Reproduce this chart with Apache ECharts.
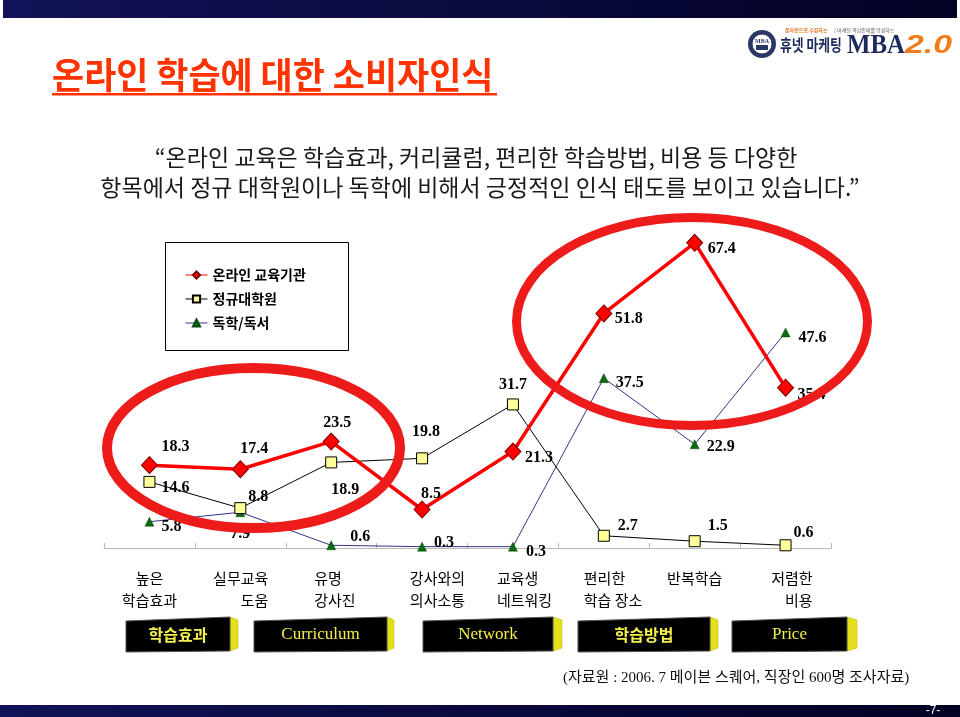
<!DOCTYPE html>
<html>
<head>
<meta charset="utf-8">
<script src="https://cdn.jsdelivr.net/npm/echarts@6/dist/echarts.min.js"></script>
<style>
  html, body { margin: 0; padding: 0; background: #ffffff; }
  #chart { width: 960px; height: 717px; }
</style>
</head>
<body>
<div id="chart"></div>
<script>
// ---- data ----
const categories = ['높은\n학습효과', '실무교육\n도움', '유명\n강사진', '강사와의\n의사소통', '교육생\n네트워킹', '편리한\n학습 장소', '반복학습', '저렴한\n비용'];
const seriesNames = ['온라인 교육기관', '정규대학원', '독학/독서'];
const onlineValues = [18.3, 17.4, 23.5, 8.5, 21.3, 51.8, 67.4, 35.4];
const gradValues = [14.6, 8.8, 18.9, 19.8, 31.7, 2.7, 1.5, 0.6];
const selfValues = [5.8, 7.9, 0.6, 0.3, 0.3, 37.5, 22.9, 47.6];
const groupLabels = ['학습효과', 'Curriculum', 'Network', '학습방법', 'Price'];
const titleText = '온라인 학습에 대한 소비자인식';
const subLine1 = '“온라인 교육은 학습효과, 커리큘럼, 편리한 학습방법, 비용 등 다양한';
const subLine2 = '항목에서 정규 대학원이나 독학에 비해서 긍정적인 인식 태도를 보이고 있습니다.”';
const sourceText = '(자료원 : 2006. 7 메이븐 스퀘어, 직장인 600명 조사자료)';

// ---- styles / layout (not data) ----
const onlineOffsets = [[26,-18],[14,-20],[6,-19],[9,-16],[26,6],[25,5],[27,6],[26,7]];
const gradOffsets = [[26,6],[18,-11],[14,27],[4,-26],[0,-20],[24,-10],[23,-15],[18,-12]];
const selfOffsets = [[22,5],[0,22],[29,-8],[22,-4],[23,5],[26,5],[26,3],[27,5]];
const catLabelStyle = [
  {align:'center'}, {align:'right', width:56}, {align:'left', width:34}, {align:'right', width:86},
  {align:'left', width:32}, {align:'left', width:40}, {align:'center'}, {align:'right', width:54}
];
const buttonBoxes = [[126,230,238],[254,387,394],[423,553,562],[578,710,718],[732,847,857]];

const KR = '"Noto Sans CJK KR", sans-serif';
const SERIF = '"Liberation Serif", "DejaVu Serif", serif';

const chart = echarts.init(document.getElementById('chart'), null, {renderer: 'canvas'});

function withLabels(values, offsets) {
  return values.map((v, i) => ({ value: v, label: { offset: offsets[i] } }));
}

const rich = {};
catLabelStyle.forEach((s, i) => {
  rich['s' + i] = Object.assign({ fontSize: 15, lineHeight: 22, color: '#000', fontFamily: KR }, s);
});

const labelBase = {
  show: true, position: 'inside', align: 'center', verticalAlign: 'middle',
  fontFamily: SERIF, fontSize: 16, fontWeight: 'bold', color: '#000'
};

const graphics = [];
// top bar and bottom bar
const barGrad = new echarts.graphic.LinearGradient(0, 0, 1, 0, [
  {offset: 0, color: '#121258'}, {offset: 1, color: '#020224'}
]);
graphics.push({ type: 'rect', shape: {x: 3, y: 0, width: 954, height: 18}, style: {fill: barGrad}, z: 50 });
graphics.push({ type: 'rect', shape: {x: 0, y: 705, width: 960, height: 12}, style: {fill: barGrad}, z: 50 });
graphics.push({ type: 'text', x: 933, y: 711, z: 51,
  style: {text: '-7-', font: '12px "Liberation Sans", sans-serif', fill: '#ffffff', align: 'center', verticalAlign: 'middle'} });

// title
graphics.push({ type: 'text', x: 52, y: 75, scaleX: 0.97, z: 50,
  style: {text: titleText, font: 'bold 36px ' + KR, fill: '#ff3300', align: 'left', verticalAlign: 'middle'} });
graphics.push({ type: 'rect', shape: {x: 52, y: 93, width: 445, height: 2.5}, style: {fill: '#ff3300'}, z: 50 });

// subtitle
graphics.push({ type: 'text', x: 476, y: 157, z: 50,
  style: {text: subLine1, font: '23px ' + KR, fill: '#1a1a1a', align: 'center', verticalAlign: 'middle'} });
graphics.push({ type: 'text', x: 480, y: 187, z: 50,
  style: {text: subLine2, font: '23px ' + KR, fill: '#1a1a1a', align: 'center', verticalAlign: 'middle'} });

// logo
graphics.push({ type: 'circle', shape: {cx: 762, cy: 44, r: 14}, style: {fill: '#2a3866'}, z: 50 });
graphics.push({ type: 'circle', shape: {cx: 762, cy: 44, r: 10}, style: {fill: '#ffffff', stroke: '#2a3866', lineWidth: 1}, z: 51 });
graphics.push({ type: 'text', x: 762, y: 41, z: 52,
  style: {text: 'MBA', font: 'bold 6px ' + SERIF, fill: '#2a3866', align: 'center', verticalAlign: 'middle'} });
graphics.push({ type: 'rect', shape: {x: 756, y: 45, width: 12, height: 5}, style: {fill: '#2a3866'}, z: 52 });
graphics.push({ type: 'text', x: 785, y: 30, z: 50,
  style: {text: '온라인으로 수강하는', font: 'bold 5px ' + KR, fill: '#e8731a', align: 'left', verticalAlign: 'middle'} });
graphics.push({ type: 'text', x: 834, y: 30, z: 50,
  style: {text: '/ 마케팅 핵심인재를 양성하는', font: '5px ' + KR, fill: '#555555', align: 'left', verticalAlign: 'middle'} });
graphics.push({ type: 'text', x: 780, y: 45, scaleX: 0.8, z: 50,
  style: {text: '휴넷 마케팅', font: 'bold 16px ' + KR, fill: '#1f2a5c', align: 'left', verticalAlign: 'middle'} });
graphics.push({ type: 'text', x: 847, y: 46, scaleX: 0.92, z: 50,
  style: {text: 'MBA', font: 'bold 27px ' + SERIF, fill: '#1f2a5c', align: 'left', verticalAlign: 'middle'} });
graphics.push({ type: 'text', x: 905, y: 46, scaleX: 1.3, z: 50,
  style: {text: '2.0', font: 'italic bold 26px "Liberation Sans", sans-serif', fill: '#f07d1a', align: 'left', verticalAlign: 'middle'} });

// legend box
graphics.push({ type: 'rect', shape: {x: 165.5, y: 242.5, width: 183, height: 108}, style: {fill: 'none', stroke: '#000', lineWidth: 1}, z: 1 });

// ellipses (annotation)
graphics.push({ type: 'ellipse', shape: {cx: 253.5, cy: 448, rx: 146.5, ry: 80}, style: {fill: 'none', stroke: '#ee1b1b', lineWidth: 10}, z: 100 });
graphics.push({ type: 'ellipse', shape: {cx: 692, cy: 321.5, rx: 175.5, ry: 104}, style: {fill: 'none', stroke: '#ee1b1b', lineWidth: 9}, z: 100 });

// buttons
buttonBoxes.forEach((b, i) => {
  const [x0, x1, x2] = b;
  graphics.push({ type: 'polygon', z: 60,
    shape: {points: [[x1, 617], [x2, 620], [x2, 648], [x1, 651]]},
    style: {fill: '#e6e01a', stroke: '#b8b000', lineWidth: 0.5} });
  graphics.push({ type: 'polygon', z: 61,
    shape: {points: [[x0, 621], [x1, 617], [x1, 651], [x0, 652]]},
    style: {fill: '#000000', stroke: '#555555', lineWidth: 1} });
  const isKr = /[가-힣]/.test(groupLabels[i]);
  graphics.push({ type: 'text', x: (x0 + x1) / 2, y: 635, z: 62,
    style: {text: groupLabels[i], font: isKr ? ('bold 16px ' + KR) : ('17px ' + SERIF), fill: '#f4f04a', align: 'center', verticalAlign: 'middle'} });
});

// source
graphics.push({ type: 'text', x: 563, y: 678, z: 50,
  style: {text: sourceText, font: '15px ' + SERIF + ', ' + KR, fill: '#111111', align: 'left', verticalAlign: 'middle'} });

const option = {
  backgroundColor: '#ffffff',
  animation: false,
  grid: { left: 104, right: 129, top: 231, bottom: 169, containLabel: false },
  legend: {
    data: seriesNames, orient: 'vertical', left: 180, top: 263, itemGap: 10,
    itemWidth: 22, itemHeight: 9,
    textStyle: { fontFamily: KR, fontSize: 14, fontWeight: 'bold', color: '#000' },
    lineStyle: { width: 1 }
  },
  xAxis: {
    type: 'category', data: categories, boundaryGap: true,
    axisLine: { lineStyle: { color: '#b8b8b8', width: 1 } },
    axisTick: { show: true, inside: true, length: 5, lineStyle: { color: '#b8b8b8' } },
    axisLabel: {
      margin: 19, interval: 0,
      formatter: (val, idx) => val.split('\n').map(l => '{s' + idx + '|' + l + '}').join('\n'),
      rich: rich
    },
    splitLine: { show: false }
  },
  yAxis: {
    type: 'value', min: 0, max: 70, show: false, splitLine: { show: false }
  },
  graphic: { elements: graphics },
  series: [
    {
      name: seriesNames[2], type: 'line', data: withLabels(selfValues, selfOffsets), z: 3,
      symbol: 'triangle', symbolSize: 9,
      itemStyle: { color: '#0a6b12', borderColor: '#0a4a0a', borderWidth: 0.5 },
      lineStyle: { color: '#33338a', width: 1 },
      label: labelBase
    },
    {
      name: seriesNames[1], type: 'line', data: withLabels(gradValues, gradOffsets), z: 4,
      symbol: 'rect', symbolSize: 11,
      itemStyle: { color: '#ffff99', borderColor: '#000000', borderWidth: 1 },
      lineStyle: { color: '#000000', width: 1 },
      label: labelBase
    },
    {
      name: seriesNames[0], type: 'line', data: withLabels(onlineValues, onlineOffsets), z: 5,
      symbol: 'diamond', symbolSize: [16, 17],
      itemStyle: { color: '#ff0000', borderColor: '#7a0000', borderWidth: 1 },
      lineStyle: { color: '#ff0000', width: 3.5 },
      label: labelBase
    }
  ]
};
chart.setOption(option);
</script>
</body>
</html>
